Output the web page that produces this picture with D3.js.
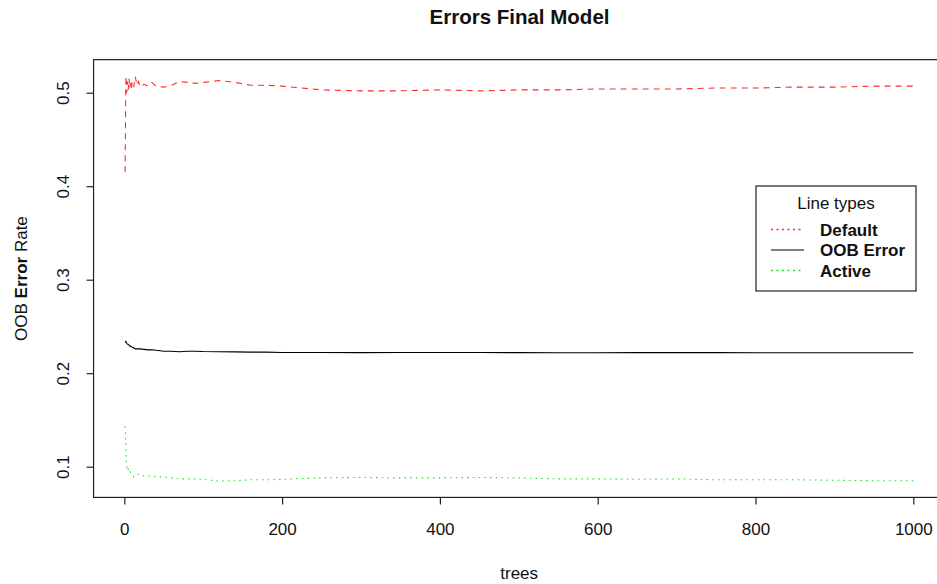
<!DOCTYPE html>
<html>
<head>
<meta charset="utf-8">
<script src="https://cdn.jsdelivr.net/npm/d3@7"></script>
<style>
  html, body { margin: 0; padding: 0; background: #fff; }
  svg { display: block; font-family: "Liberation Sans", Arial, Helvetica, sans-serif; }
</style>
</head>
<body>
<svg id="chart" width="937" height="584"></svg>
<script>
// ---- data ----
const trees = [1,2,3,4,5,6,7,8,9,10,12,14,16,18,20,25,30,35,40,50,60,70,80,90,100,120,140,160,180,200,250,300,350,400,450,500,550,600,650,700,750,800,850,900,950,1000];
const defaultErr = [0.415,0.518,0.500,0.512,0.503,0.515,0.505,0.510,0.504,0.512,0.506,0.517,0.508,0.512,0.506,0.509,0.507,0.511,0.507,0.506,0.508,0.512,0.511,0.510,0.511,0.513,0.511,0.508,0.508,0.507,0.503,0.502,0.502,0.503,0.502,0.503,0.503,0.504,0.504,0.504,0.505,0.505,0.506,0.506,0.507,0.507];
const oobErr = [0.233,0.234,0.232,0.231,0.231,0.230,0.229,0.229,0.228,0.228,0.227,0.226,0.226,0.226,0.226,0.2255,0.225,0.225,0.2245,0.2235,0.2235,0.223,0.2235,0.2235,0.2232,0.223,0.2228,0.2225,0.2225,0.2222,0.2222,0.222,0.2222,0.2222,0.2222,0.222,0.2218,0.2218,0.222,0.222,0.222,0.2218,0.2218,0.2218,0.2218,0.2218];
const activeErr = [0.143,0.120,0.098,0.100,0.097,0.098,0.096,0.094,0.092,0.091,0.089,0.091,0.092,0.092,0.091,0.090,0.090,0.090,0.0895,0.089,0.088,0.087,0.087,0.087,0.0865,0.0845,0.085,0.086,0.086,0.0865,0.088,0.0885,0.088,0.088,0.0885,0.088,0.087,0.087,0.0865,0.087,0.086,0.086,0.086,0.0855,0.085,0.085];
const xTicks = [0,200,400,600,800,1000];
const yTicks = [0.1,0.2,0.3,0.4,0.5];
const legendLabels = ["Default","OOB Error","Active"];

(function () {
// ---- styles ----
const series = [
  {name: "Default", values: defaultErr, color: "#ff2a2a", dash: "6,5", legendDash: "2,3.5"},
  {name: "OOB Error", values: oobErr, color: "#000000", dash: null, legendDash: null},
  {name: "Active", values: activeErr, color: "#1fe01f", dash: "1.5,4.2", legendDash: "2,3.5"}
];

const svg = d3.select("#chart");
const FONT = 17;

// scales (R-style 4% extension around data)
const x = d3.scaleLinear().domain([0, 1000]).range([124.3, 913.3]);
const y = d3.scaleLinear().domain([0.1, 0.5]).range([466.7, 92.7]);
const xExt = [1 - 0.04 * 999, 1000 + 0.04 * 999];
const yMin = d3.min(activeErr), yMax = d3.max(defaultErr);
const yPad = (yMax - yMin) * 0.04;
const yExt = [yMin - yPad, yMax + yPad];

const pL = x(xExt[0]), pR = x(xExt[1]);
const pT = y(yExt[1]), pB = y(yExt[0]);

// clip
svg.append("defs").append("clipPath").attr("id", "clip")
  .append("rect").attr("x", pL).attr("y", pT).attr("width", pR - pL).attr("height", pB - pT);

// lines
const line = d3.line().x((d, i) => x(trees[i])).y(d => y(d));
const g = svg.append("g").attr("clip-path", "url(#clip)");
series.forEach(s => {
  g.append("path")
    .attr("d", line(s.values))
    .attr("fill", "none")
    .attr("stroke", s.color)
    .attr("stroke-width", 1.1)
    .attr("stroke-dasharray", s.dash);
});

// box
svg.append("rect")
  .attr("x", pL).attr("y", pT).attr("width", pR - pL).attr("height", pB - pT)
  .attr("fill", "none").attr("stroke", "#222").attr("stroke-width", 1.2);

// x axis
const xAxis = svg.append("g").attr("transform", `translate(0,${pB})`)
  .call(d3.axisBottom(x).tickValues(xTicks).tickFormat(d3.format("d")).tickSize(7).tickPadding(19));
xAxis.select(".domain").remove();
xAxis.selectAll(".tick line").attr("stroke", "#222").attr("stroke-width", 1.2);
xAxis.selectAll(".tick text").attr("font-size", FONT).attr("fill", "#111").attr("font-family", null);

// y axis
const yAxis = svg.append("g").attr("transform", `translate(${pL},0)`)
  .call(d3.axisLeft(y).tickValues(yTicks).tickFormat(d3.format(".1f")).tickSize(7).tickPadding(0));
yAxis.select(".domain").remove();
yAxis.selectAll(".tick line").attr("stroke", "#222").attr("stroke-width", 1.2);
yAxis.selectAll(".tick text")
  .attr("font-size", FONT).attr("fill", "#111").attr("font-family", null)
  .attr("x", null).attr("dy", null)
  .attr("text-anchor", "middle")
  .attr("transform", `translate(${69 - pL},0) rotate(-90)`);

// title
svg.append("text")
  .attr("x", 519.5).attr("y", 24)
  .attr("text-anchor", "middle")
  .attr("font-size", 20.5).attr("font-weight", "bold").attr("fill", "#111")
  .text("Errors Final Model");

// x label
svg.append("text")
  .attr("x", (pL + pR) / 2).attr("y", 579)
  .attr("text-anchor", "middle").attr("font-size", FONT).attr("fill", "#111")
  .text("trees");

// y label (mixed weight)
const yl = svg.append("text")
  .attr("transform", `translate(26.5,${(pT + pB) / 2}) rotate(-90)`)
  .attr("text-anchor", "middle").attr("font-size", FONT).attr("fill", "#111");
yl.append("tspan").text("OOB ");
yl.append("tspan").attr("font-weight", "bold").text("Error");
yl.append("tspan").text(" Rate");

// legend
const lg = svg.append("g");
lg.append("rect").attr("x", 756).attr("y", 186).attr("width", 160).attr("height", 105)
  .attr("fill", "#fff").attr("stroke", "#222").attr("stroke-width", 1.2);
lg.append("text").attr("x", 836).attr("y", 209).attr("text-anchor", "middle")
  .attr("font-size", FONT).attr("fill", "#111").text("Line types");
legendLabels.forEach((lab, i) => {
  const s = series[i];
  const cy = 229.5 + i * 20.5;
  lg.append("line").attr("x1", 771).attr("x2", 804).attr("y1", cy).attr("y2", cy)
    .attr("stroke", s.color).attr("stroke-width", s.legendDash ? 1.4 : 1.1)
    .attr("stroke-dasharray", s.legendDash);
  lg.append("text").attr("x", 820).attr("y", cy + 6).attr("font-size", FONT)
    .attr("font-weight", "bold").attr("fill", "#111").text(lab);
});
})();
</script>
</body>
</html>
